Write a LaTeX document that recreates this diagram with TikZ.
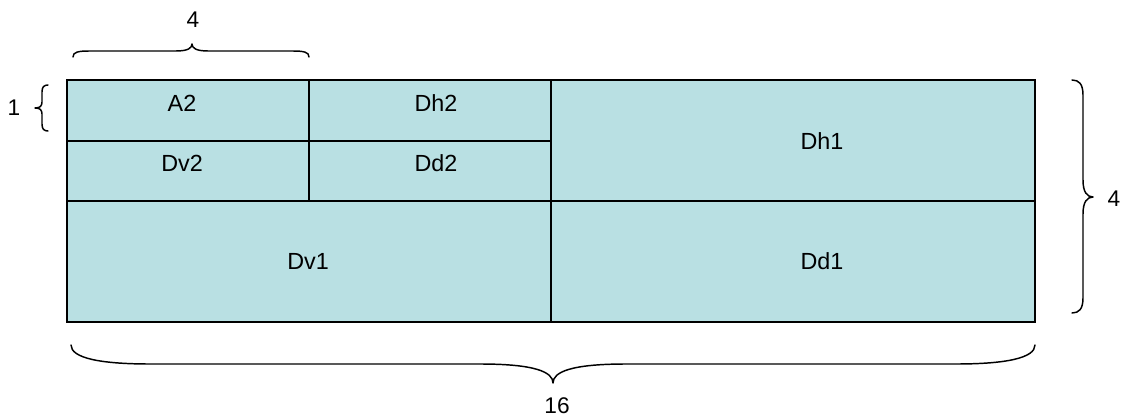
\documentclass[tikz,border=0pt]{standalone}
\usepackage{fontspec}
\setmainfont{Liberation Sans}
\definecolor{cellfill}{RGB}{185,224,227}
\begin{document}
\begin{tikzpicture}[x=0.75pt,y=-0.75pt,
  celltext/.style={font=\fontsize{17.5}{20}\selectfont, inner sep=0pt},
  dimtext/.style={font=\fontsize{17}{20}\selectfont, inner sep=0pt},
  bracepath/.style={line width=1.1pt, line cap=round, line join=round},
  gridline/.style={line width=1.1pt}]
\useasboundingbox (0,0) rectangle (1124,420);

% block layout
\fill[cellfill] (67,80) rectangle (1035,322);
\draw[gridline] (551,80) -- (551,322);
\draw[gridline] (67,201) -- (1035,201);
\draw[gridline] (67,141) -- (551,141);
\draw[gridline] (309,80) -- (309,201);
\draw[line width=1.5pt] (67,80) rectangle (1035,322);

% sub-band labels
\node[celltext] (a2)  at (182,103) {A2};
\node[celltext] (dh2) at (436,103) {Dh2};
\node[celltext] (dv2) at (182,163) {Dv2};
\node[celltext] (dd2) at (436,163) {Dd2};
\node[celltext] (dh1) at (822,141) {Dh1};
\node[celltext] (dv1) at (308,261) {Dv1};
\node[celltext] (dd1) at (822,261) {Dd1};

% size braces
\draw[bracepath] (73,57) .. controls (73,52) and (78,51) .. (90,51) -- (176,51)
  .. controls (188,51) and (192,48) .. (192,44)
  .. controls (192,48) and (196,51) .. (208,51) -- (292,51)
  .. controls (304,51) and (309,52) .. (309,57);
\node[dimtext] (w4) at (193,20) {4};

\draw[bracepath] (48,85) .. controls (44,85) and (42,87) .. (42,92) -- (42,102)
  .. controls (42,106) and (40,108) .. (35,108)
  .. controls (40,108) and (42,110) .. (42,114) -- (42,124)
  .. controls (42,129) and (44,131) .. (48,131);
\node[dimtext] (h1) at (14,108) {1};

\draw[bracepath] (1072,80) .. controls (1079,80) and (1083,84) .. (1083,95) -- (1083,180)
  .. controls (1083,192) and (1087,197) .. (1093,197)
  .. controls (1087,197) and (1083,202) .. (1083,214) -- (1083,298)
  .. controls (1083,309) and (1079,313) .. (1072,313);
\node[dimtext] (h4) at (1114,199) {4};

\draw[bracepath] (71,345) .. controls (71,358) and (100,364) .. (150,364) -- (480,364)
  .. controls (535,364) and (553,372) .. (553,383)
  .. controls (553,372) and (571,364) .. (626,364) -- (956,364)
  .. controls (1006,364) and (1035,358) .. (1035,345);
\node[dimtext] (w16) at (557,406) {16};
\end{tikzpicture}
\end{document}
